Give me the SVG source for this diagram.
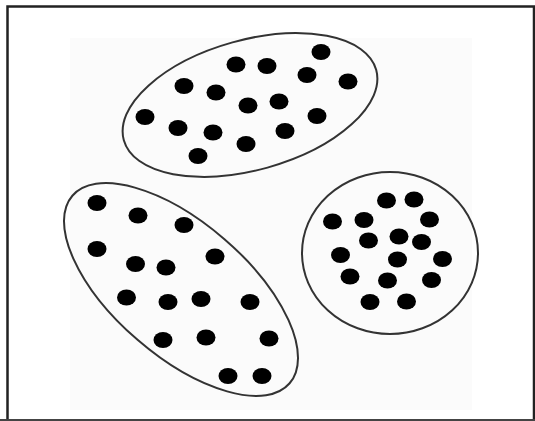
<svg xmlns="http://www.w3.org/2000/svg" width="535" height="421" viewBox="0 0 535 421">
<style>
.cl{fill:none;stroke:#333;stroke-width:2}
.d{fill:#000}
</style>
<defs>
<ellipse id="dot" class="d" rx="9.5" ry="8"/>
</defs>
<rect width="535" height="421" fill="#fff"/>
<rect x="70" y="38" width="402" height="372" fill="#fbfbfb"/>
<path d="M7.5 421 V6.5 H534 V421" fill="none" stroke="#222" stroke-width="2.5"/>
<path d="M0 420 H535" fill="none" stroke="#444" stroke-width="2"/>
<g id="cluster-top">
<ellipse class="cl" cx="250" cy="105" rx="131" ry="65" transform="rotate(-15.6 250 105)"/>
<use href="#dot" x="321" y="52"/>
<use href="#dot" x="236" y="64.5"/>
<use href="#dot" x="267" y="66"/>
<use href="#dot" x="307" y="75"/>
<use href="#dot" x="348" y="81.5"/>
<use href="#dot" x="184" y="86"/>
<use href="#dot" x="216" y="92.5"/>
<use href="#dot" x="248" y="105.5"/>
<use href="#dot" x="279" y="101.5"/>
<use href="#dot" x="317" y="116"/>
<use href="#dot" x="145" y="117"/>
<use href="#dot" x="178" y="128"/>
<use href="#dot" x="213" y="132.5"/>
<use href="#dot" x="285" y="131"/>
<use href="#dot" x="246" y="144"/>
<use href="#dot" x="198" y="156"/>
</g>
<g id="cluster-left">
<ellipse class="cl" cx="181" cy="289.5" rx="143.5" ry="66.5" transform="rotate(40.8 181 289.5)"/>
<use href="#dot" x="97" y="203"/>
<use href="#dot" x="138" y="215.5"/>
<use href="#dot" x="184" y="225"/>
<use href="#dot" x="97" y="249"/>
<use href="#dot" x="135.5" y="264"/>
<use href="#dot" x="166" y="267.5"/>
<use href="#dot" x="215" y="256.5"/>
<use href="#dot" x="126.5" y="297.5"/>
<use href="#dot" x="168" y="302"/>
<use href="#dot" x="201" y="299"/>
<use href="#dot" x="250" y="302"/>
<use href="#dot" x="163" y="340"/>
<use href="#dot" x="206" y="337.5"/>
<use href="#dot" x="269" y="338.5"/>
<use href="#dot" x="228" y="376"/>
<use href="#dot" x="262" y="376"/>
</g>
<g id="cluster-right">
<ellipse class="cl" cx="390" cy="253" rx="88" ry="81"/>
<use href="#dot" x="386.5" y="200.5"/>
<use href="#dot" x="414" y="199.5"/>
<use href="#dot" x="332.5" y="221.5"/>
<use href="#dot" x="364" y="220"/>
<use href="#dot" x="429.5" y="219.5"/>
<use href="#dot" x="368.5" y="240.5"/>
<use href="#dot" x="399" y="236.5"/>
<use href="#dot" x="421.5" y="242"/>
<use href="#dot" x="340.5" y="255"/>
<use href="#dot" x="397.5" y="259.5"/>
<use href="#dot" x="442.5" y="259"/>
<use href="#dot" x="350" y="276.5"/>
<use href="#dot" x="387.5" y="280.5"/>
<use href="#dot" x="431.5" y="280"/>
<use href="#dot" x="370" y="302"/>
<use href="#dot" x="406.5" y="301.5"/>
</g>
<g id="connectors"/>
</svg>
